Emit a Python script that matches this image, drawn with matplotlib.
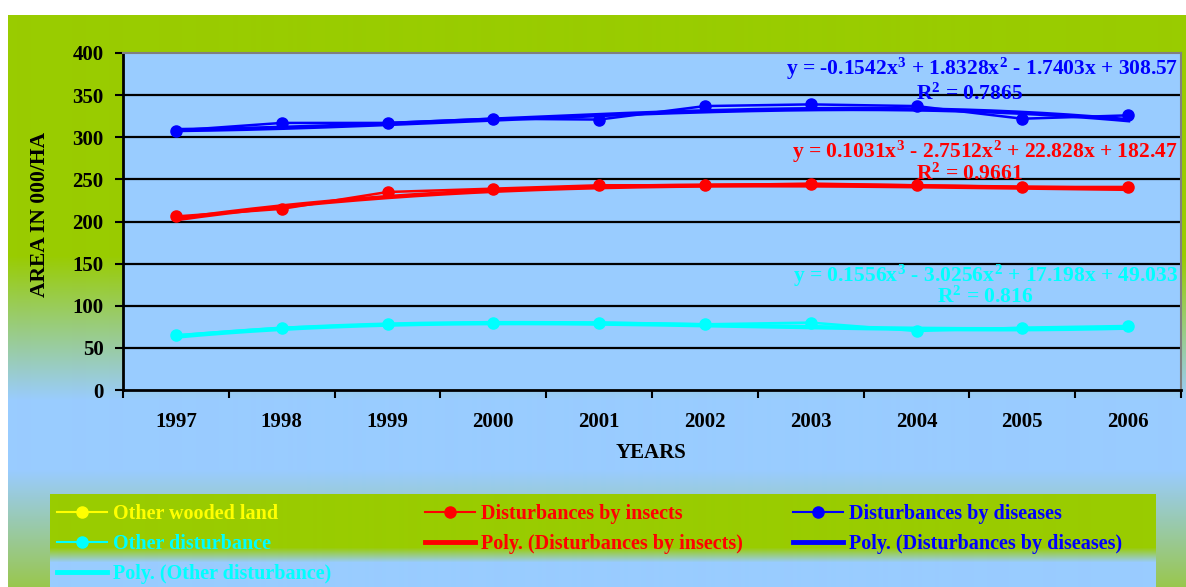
import numpy as np
import matplotlib
matplotlib.use("Agg")
import matplotlib.pyplot as plt
from matplotlib.lines import Line2D

# ---------------- data ----------------
years = ["1997", "1998", "1999", "2000", "2001", "2002", "2003", "2004", "2005", "2006"]
diseases = [308, 317, 317, 322, 321, 337, 339, 337, 322, 326]
insects = [206, 215, 235, 239, 243, 243, 245, 243, 241, 241]
other_dist = [65, 74, 78, 80, 80, 78, 80, 70, 74, 76]
# cubic trend-line coefficients (highest power first), as printed on the chart
coef_diseases = [-0.1542, 1.8328, -1.7403, 308.57]
coef_insects = [0.1031, -2.7512, 22.828, 182.47]
coef_other = [0.1556, -3.0256, 17.198, 49.033]
r2_diseases = "0.7865"
r2_insects = "0.9661"
r2_other = "0.816"
yticks = [0, 50, 100, 150, 200, 250, 300, 350, 400]

# ---------------- style ----------------
plt.rcParams['font.family'] = ['Liberation Serif', 'DejaVu Serif']
plt.rcParams['font.weight'] = 'bold'
plt.rcParams['mathtext.fontset'] = 'custom'
plt.rcParams['mathtext.rm'] = 'Liberation Serif:bold'
plt.rcParams['mathtext.it'] = 'Liberation Serif:bold'
plt.rcParams['mathtext.bf'] = 'Liberation Serif:bold'

W, H = 1186, 587
fig = plt.figure(figsize=(W / 100, H / 100), dpi=100)
fig.patch.set_facecolor('white')

GREEN = np.array([0.6, 0.8, 0.0])
BLUE = np.array([0.6, 0.8, 1.0])
BOTG = np.array([0.6, 0.78, 0.3])

# chart-area background gradient (pixels 15..587 from top)
rows = np.arange(15, H)
def grad_color(yp):
    if yp < 255:
        return GREEN
    if yp < 400:
        t = (yp - 255) / 145
        return GREEN * (1 - t) + BLUE * t
    if yp < 470:
        return BLUE
    t = (yp - 470) / (H - 470)
    return BLUE * (1 - t) + BOTG * t
img = np.array([grad_color(r) for r in rows])[:, None, :]
bg = fig.add_axes([8 / W, 0, 1 - 8 / W, 1 - 15 / H], zorder=-10)
bg.imshow(img, aspect='auto', extent=[0, 1, 0, 1], interpolation='bilinear')
bg.axis('off')

# legend box background gradient (pixels 494..587)
lrows = np.arange(494, H)
def lgrad(yp):
    if yp < 547:
        return GREEN
    if yp < 562:
        t = (yp - 547) / 15
        return GREEN * (1 - t) + BLUE * t
    return BLUE
limg = np.array([lgrad(r) for r in lrows])[:, None, :]
lb = fig.add_axes([50 / W, 0, (1156 - 50) / W, (H - 494) / H], zorder=-5)
lb.imshow(limg, aspect='auto', extent=[0, 1, 0, 1], interpolation='bilinear')
lb.axis('off')

# ---------------- main axes ----------------
ax = fig.add_axes([123 / W, 1 - 390 / H, (1181 - 123) / W, (390 - 53) / H])
ax.set_facecolor('#99CCFF')
xpos = np.arange(len(years)) + 0.5

ax.set_xlim(0, len(years))
ax.set_ylim(0, 400)
ax.set_yticks(yticks)
ax.set_yticklabels([str(v) for v in yticks], fontsize=15, fontweight='bold')
ax.set_xticks(np.arange(0, len(years) + 1))
ax.set_xticklabels([])
ax.set_xticks(xpos, minor=True)
ax.set_xticklabels(years, minor=True, fontsize=15, fontweight='bold')
ax.tick_params(axis='x', which='major', direction='out', length=6, width=1.5, color='black')
ax.tick_params(axis='x', which='minor', length=0, pad=16)
ax.tick_params(axis='y', direction='out', length=6, width=1.5, color='black', pad=8)

for v in yticks[1:-1]:
    ax.axhline(v, color='black', lw=1.6, zorder=1)
for s in ['left', 'bottom']:
    ax.spines[s].set_color('black')
    ax.spines[s].set_linewidth(2)
for s in ['top', 'right']:
    ax.spines[s].set_color('#808080')
    ax.spines[s].set_linewidth(1.5)

series = [
    (diseases, coef_diseases, '#0000FF'),
    (insects, coef_insects, '#FF0000'),
    (other_dist, coef_other, '#00FFFF'),
]
xs = np.linspace(1, len(years), 300)
for vals, coef, col in series:
    ax.plot(xpos, vals, color=col, lw=1.8, marker='o', ms=8, zorder=3)
    ax.plot(xs - 0.5, np.polyval(coef, xs), color=col, lw=3.2, zorder=3)

def eq_text(c):
    def num(v, first=False):
        s = f"{abs(v):g}"
        if first:
            return ("-" if v < 0 else "") + s
        return (" - " if v < 0 else " + ") + s
    return (f"y = {num(c[0], True)}$x^3$" + num(c[1]) + "$x^2$" + num(c[2]) + "x" + num(c[3]))

eqs = [
    (coef_diseases, r2_diseases, '#0000FF', 381, 351, 8.0),
    (coef_insects, r2_insects, '#FF0000', 283, 256, 8.0),
    (coef_other, r2_other, '#00FFFF', 136, 110, 8.15),
]
for coef, r2, col, ye, yr, xr in eqs:
    ax.text(9.97, ye, eq_text(coef), color=col, fontsize=15.5, fontweight='bold',
            ha='right', va='center', zorder=5)
    ax.text(xr, yr, "R$^2$ = " + r2, color=col, fontsize=15.5, fontweight='bold',
            ha='center', va='center', zorder=5)

ax.set_ylabel("AREA IN 000/HA", fontsize=15.5, fontweight='bold')
ax.yaxis.set_label_coords(-(123 - 50) / (1181 - 123), 0.52)
fig.text(651 / W, 1 - 453 / H, "YEARS", fontsize=15, fontweight='bold',
         ha='center', va='center')

# ---------------- legend ----------------
def h_marker(col):
    return Line2D([], [], color=col, lw=1.5, marker='o', ms=8)
def h_line(col):
    return Line2D([], [], color=col, lw=3.5)

cols = [
    ([h_marker('#FFFF00'), h_marker('#00FFFF'), h_line('#00FFFF')],
     ["Other wooded land", "Other disturbance", "Poly. (Other disturbance)"],
     ['#FFFF00', '#00FFFF', '#00FFFF'], 57),
    ([h_marker('#FF0000'), h_line('#FF0000')],
     ["Disturbances by insects", "Poly. (Disturbances by insects)"],
     ['#FF0000', '#FF0000'], 425),
    ([h_marker('#0000FF'), h_line('#0000FF')],
     ["Disturbances by diseases", "Poly. (Disturbances by diseases)"],
     ['#0000FF', '#0000FF'], 793),
]
for hs, labels, tcols, xl in cols:
    leg = fig.legend(hs, labels, loc='upper left',
                     bbox_to_anchor=(xl / W, 1 - 504 / H),
                     frameon=False, handlelength=2.5,
                     handletextpad=0.3, labelspacing=0.5, borderpad=0,
                     borderaxespad=0, prop={'weight': 'bold', 'size': 14.5})
    for t, c in zip(leg.get_texts(), tcols):
        t.set_color(c)

fig.savefig("out.png", dpi=100)
